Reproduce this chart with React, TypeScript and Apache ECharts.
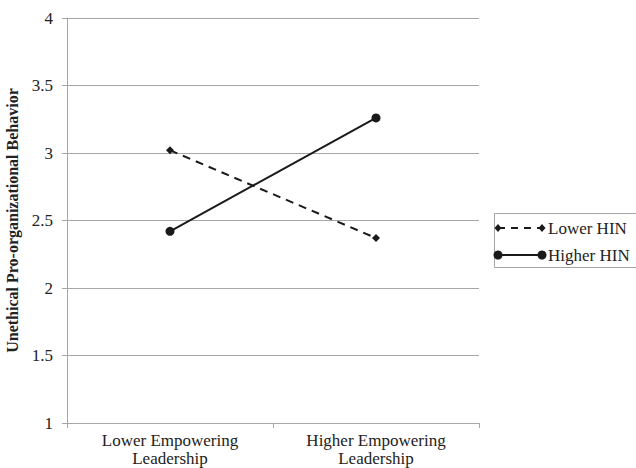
import React, { useEffect, useRef } from "react";
import * as echarts from "echarts";

const categories = ["Lower Empowering\nLeadership", "Higher Empowering\nLeadership"];
const seriesNames = ["Lower HIN", "Higher HIN"];
const lowerHIN = [3.02, 2.37];
const higherHIN = [2.42, 3.26];
const yMin = 1;
const yMax = 4;
const yInterval = 0.5;

const FONT = "Liberation Serif";
const INK = "#1a1a1a";
const GRAY = "#a6a6a6";

function legendGraphics() {
  const x0 = 498;
  const x1 = 542;
  const rows = [228, 255];
  const items: any[] = [
    {
      type: "rect",
      shape: { x: 494.5, y: 213.5, width: 160, height: 54 },
      style: { fill: "#fff", stroke: GRAY, lineWidth: 1 },
      silent: true,
    },
  ];
  items.push({
    type: "line",
    shape: { x1: x0, y1: rows[0], x2: x1, y2: rows[0] },
    style: { stroke: INK, lineWidth: 2, lineDash: [7, 6] },
    silent: true,
  });
  [x0, x1].forEach((cx) =>
    items.push({
      type: "polygon",
      shape: { points: [[cx, rows[0] - 4], [cx + 3.5, rows[0]], [cx, rows[0] + 4], [cx - 3.5, rows[0]]] },
      style: { fill: INK },
      silent: true,
    })
  );
  items.push({
    type: "line",
    shape: { x1: x0, y1: rows[1], x2: x1, y2: rows[1] },
    style: { stroke: INK, lineWidth: 2 },
    silent: true,
  });
  [x0, x1].forEach((cx) =>
    items.push({
      type: "circle",
      shape: { cx, cy: rows[1], r: 4.5 },
      style: { fill: INK },
      silent: true,
    })
  );
  seriesNames.forEach((n, i) =>
    items.push({
      type: "text",
      x: 548,
      y: rows[i],
      style: {
        text: n,
        fontSize: 17,
        fontFamily: FONT,
        fill: "#222",
        verticalAlign: "middle",
        align: "left",
      },
      silent: true,
    })
  );
  return items;
}

export default function App() {
  const ref = useRef<HTMLDivElement>(null);
  useEffect(() => {
    if (!ref.current) return;
    const chart = echarts.init(ref.current, undefined, { renderer: "svg" });
    chart.setOption({
      animation: false,
      backgroundColor: "#ffffff",
      textStyle: { fontFamily: FONT },
      grid: {
        left: 67,
        right: 157,
        top: 18,
        bottom: 45,
        containLabel: false,
        outerBoundsMode: "none",
      },
      xAxis: {
        type: "category",
        data: categories,
        boundaryGap: true,
        axisLine: { lineStyle: { color: GRAY, width: 1 } },
        axisTick: { show: true, length: 5, lineStyle: { color: GRAY } },
        axisLabel: {
          color: "#222",
          fontSize: 17,
          fontFamily: FONT,
          lineHeight: 18,
          margin: 8,
        },
        splitLine: { show: false },
      },
      yAxis: {
        type: "value",
        min: yMin,
        max: yMax,
        interval: yInterval,
        name: "Unethical Pro-organizational Behavior",
        nameLocation: "middle",
        nameGap: 43,
        nameTextStyle: {
          fontSize: 16,
          fontWeight: "bold",
          color: "#222",
          fontFamily: FONT,
        },
        axisLine: { show: true, lineStyle: { color: GRAY, width: 1 } },
        axisTick: { show: true, length: 5, lineStyle: { color: GRAY } },
        axisLabel: {
          color: "#222",
          fontSize: 17,
          fontFamily: FONT,
          margin: 14,
        },
        splitLine: { show: true, lineStyle: { color: GRAY, width: 1 } },
      },
      graphic: legendGraphics(),
      series: [
        {
          name: seriesNames[0],
          type: "line",
          data: lowerHIN,
          symbol: "diamond",
          symbolSize: 8,
          lineStyle: { color: INK, width: 2, type: [8, 6] },
          itemStyle: { color: INK },
        },
        {
          name: seriesNames[1],
          type: "line",
          data: higherHIN,
          symbol: "circle",
          symbolSize: 9,
          lineStyle: { color: INK, width: 2, type: "solid" },
          itemStyle: { color: INK },
        },
      ],
    });
    return () => chart.dispose();
  }, []);
  return (
    <div
      ref={ref}
      style={{ position: "fixed", left: 0, top: 0, width: 636, height: 468 }}
    />
  );
}
